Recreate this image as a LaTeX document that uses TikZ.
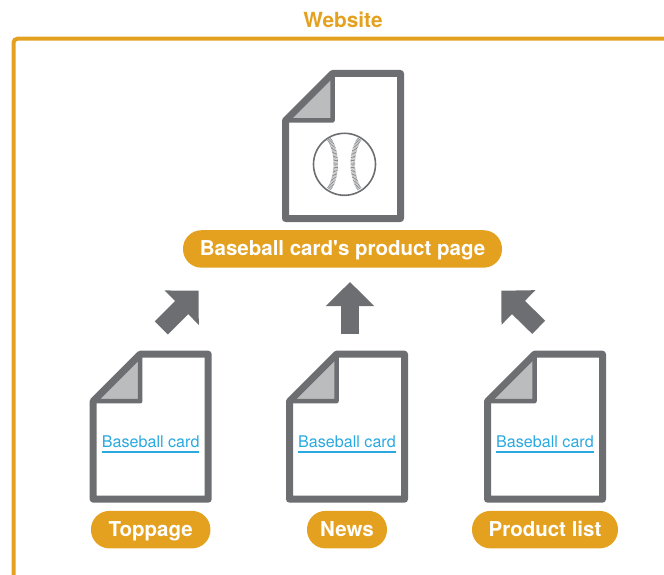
\documentclass[tikz,border=0pt]{standalone}
\usepackage{fontspec}
\setmainfont{TeX Gyre Heros}
\usepackage{tikz}
\usetikzlibrary{positioning,arrows.meta}

\definecolor{webgold}{HTML}{E4A11F}
\definecolor{docgray}{HTML}{6D6E71}
\definecolor{foldgray}{HTML}{BBBCBE}
\definecolor{linkblue}{HTML}{29A9E0}

% outline of a page, drawn around a named doc node
\newcommand{\pageoutline}[1]{
    \path (#1.north west) ++(47pt,0) coordinate (#1-a) (#1.north west) ++(0,-47pt) coordinate (#1-b);
    \draw[foldline] (#1-a) -- (#1-a |- #1-b) -- (#1-b) -- cycle;
    \draw[docline] (#1-a) -- (#1.north east) -- (#1.south east) -- (#1.south west) -- (#1-b) -- cycle;
}
% blue link text with its line
\newcommand{\cardlink}[2]{
    \node[linktext] (#1) at ([yshift=-17pt]#2.center) {Baseball card};
    \draw[linkline] (#1.south west) -- (#1.south east);
}

\begin{document}
\begin{tikzpicture}[
    x=1pt, y=-1pt,
    node distance=11.5pt,
    doc/.style={rectangle, minimum width=115pt, minimum height=145pt, inner sep=0pt, outer sep=0pt},
    docline/.style={draw=docgray, line width=7pt, line join=round},
    foldline/.style={draw=docgray, fill=foldgray, line width=4.5pt, line join=round},
    pagename/.style={rectangle, fill=webgold, rounded corners=18.5pt, minimum height=37.5pt, inner sep=0pt,
        text=white, text height=15.5pt, text depth=2.5pt, font=\fontsize{20.5pt}{24pt}\selectfont\bfseries},
    linktext/.style={text=linkblue, inner sep=0pt, outer sep=0pt, text depth=5pt, font=\fontsize{16.1pt}{18pt}\selectfont},
    linkline/.style={draw=linkblue, line width=1.2pt},
    blockarrow/.style={draw=docgray, line width=18.5pt, -{Triangle[length=24pt, width=47pt, fill=docgray]}},
    seam/.style={draw=docgray!80, line width=4.5pt, dash pattern=on .7pt off .7pt}
]
    \useasboundingbox (0,0) rectangle (664,575);

    % Marco
    \node[text=webgold, font=\fontsize{20.8pt}{24pt}\selectfont\bfseries] (website) at (343,20) {Website};
    \draw[draw=webgold, line width=4pt, rounded corners=4pt] (664,38.7) -- (13.5,38.7) -- (13.5,575);

    % Paginas
    \node[doc] (product) at (343,146) {};
    \node[doc] (topdoc) at (150.7,426.7) {};
    \node[doc, right=81.3pt of topdoc] (newsdoc) {};
    \node[doc, right=83pt of newsdoc] (listdoc) {};
    \pageoutline{product}
    \pageoutline{topdoc}
    \pageoutline{newsdoc}
    \pageoutline{listdoc}

    % Pelota
    \node[circle, draw=docgray, line width=1.6pt, minimum size=62pt, inner sep=0pt] (ball) at (344.5,164.3) {};
    \draw[seam] (329,139) .. controls (338,152) and (338,176) .. (329,189);
    \draw[seam] (359.5,139) .. controls (350.5,152) and (350.5,176) .. (359.5,189);

    % Enlaces
    \cardlink{toplink}{topdoc}
    \cardlink{newslink}{newsdoc}
    \cardlink{listlink}{listdoc}

    % Etiquetas
    \node[pagename, minimum width=319pt, below=of product, xshift=-.5pt] (productname) {Baseball card\textquotesingle s product page};
    \node[pagename, minimum width=119.5pt, below=of topdoc] (topname) {Toppage};
    \node[pagename, minimum width=80pt, below=of newsdoc] (newsname) {News};
    \node[pagename, minimum width=146pt, below=of listdoc] (listname) {Product list};

    % Flechas
    \coordinate (toptail) at (161.3,327.9);
    \coordinate (toptip) at (198.7,290.7);
    \coordinate (newstail) at (350,334);
    \coordinate (newstip) at (350,282);
    \coordinate (listtail) at (538.7,327.3);
    \coordinate (listtip) at (501.3,290.7);
    \draw[blockarrow] (toptail) -- (toptip);
    \draw[blockarrow] (newstail) -- (newstip);
    \draw[blockarrow] (listtail) -- (listtip);
\end{tikzpicture}
\end{document}
